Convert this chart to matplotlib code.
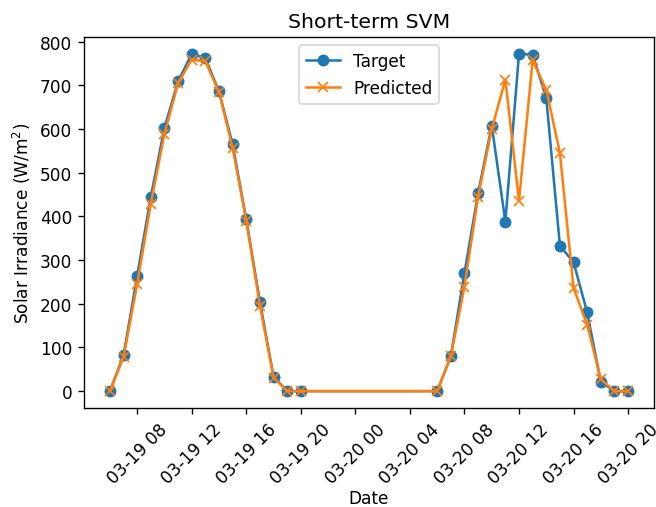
import matplotlib
matplotlib.use("Agg")
import matplotlib.pyplot as plt
import matplotlib.dates as mdates
import pandas as pd

hours_day = list(range(6, 21))
dates = ([pd.Timestamp(2018, 3, 19, h) for h in hours_day] +
         [pd.Timestamp(2018, 3, 20, h) for h in hours_day])

target = [0, 82, 264, 445, 603, 709, 772, 762, 686, 565, 393, 205, 33, 0, 0,
          0, 80, 270, 453, 608, 388, 772, 770, 671, 333, 295, 180, 21, 0, 0]
predicted = [0, 78, 245, 429, 589, 705, 759, 755, 685, 556, 390, 196, 31, 0, 0,
             0, 80, 239, 445, 600, 713, 436, 757, 690, 545, 236, 152, 27, 0, 0]

title = "Short-term SVM"
xlabel = "Date"
ylabel = "Solar Irradiance (W/m$^2$)"

dpi = 122
fig = plt.figure(figsize=(656 / dpi, 508 / dpi), dpi=dpi)
ax = fig.add_axes([84 / 656, 1 - 409 / 508, (654 - 84) / 656, (409 - 38) / 508])

ax.plot(dates, target, marker='o', label='Target')
ax.plot(dates, predicted, marker='x', label='Predicted')

ax.xaxis.set_major_locator(mdates.HourLocator(byhour=[0, 4, 8, 12, 16, 20]))
ax.xaxis.set_major_formatter(mdates.DateFormatter('%m-%d %H'))
for lab in ax.get_xticklabels():
    lab.set_rotation(45)

ax.set_title(title)
ax.set_xlabel(xlabel, labelpad=1.5)
ax.set_ylabel(ylabel)
ax.legend(loc='upper center')

fig.savefig("out.png", dpi=dpi)
